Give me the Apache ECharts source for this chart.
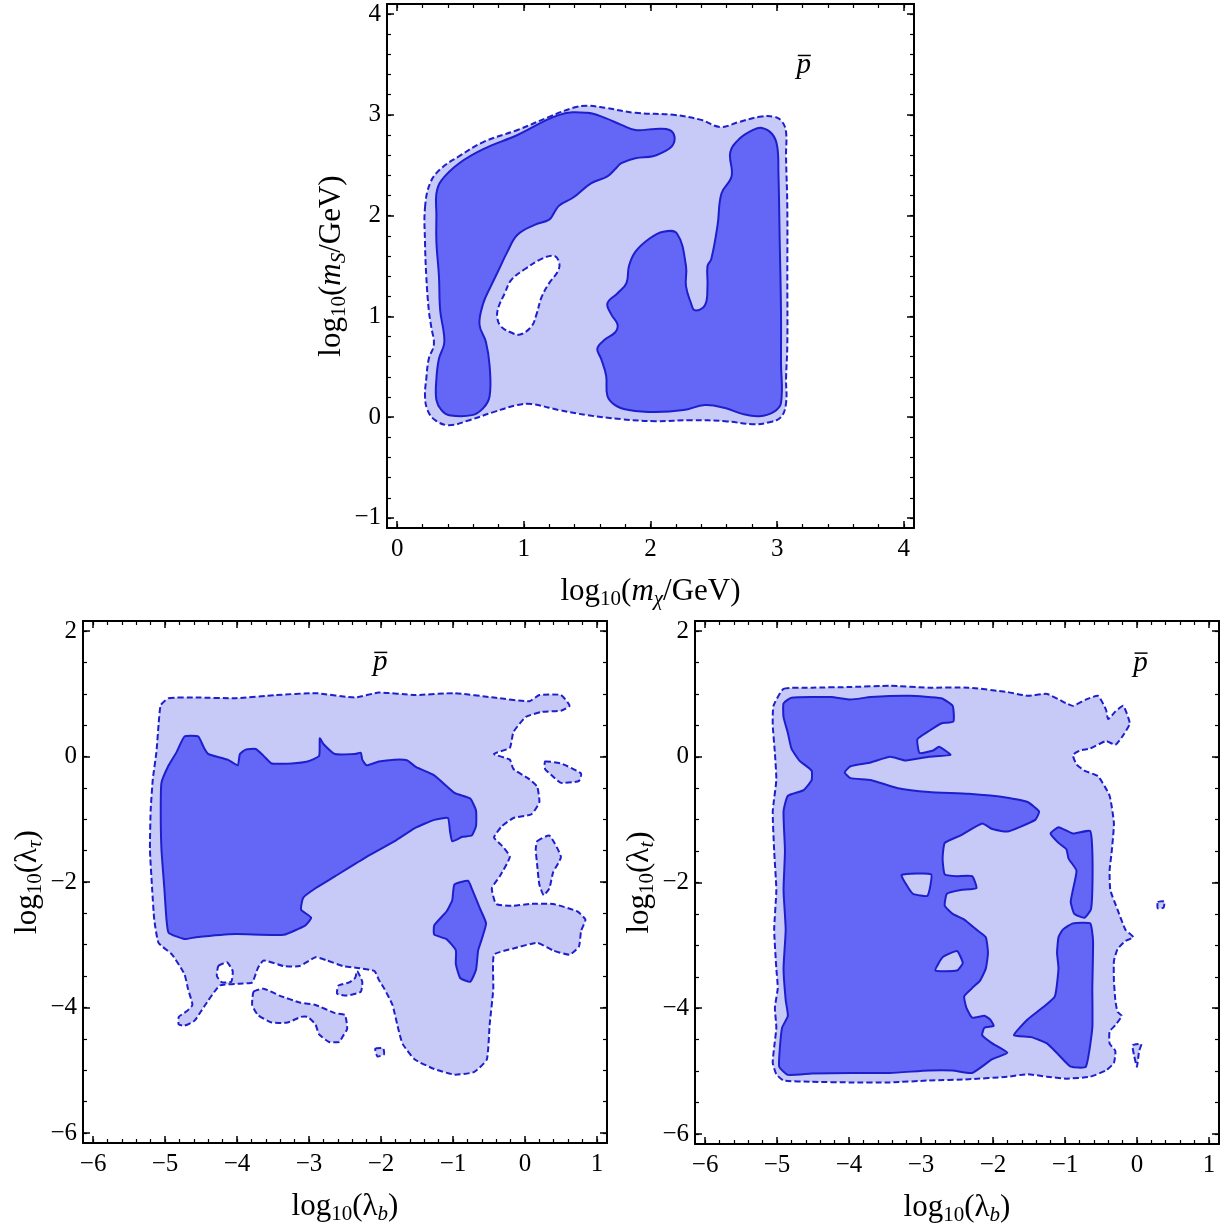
<!DOCTYPE html>
<html>
<head>
<meta charset="utf-8">
<script src="https://cdn.jsdelivr.net/npm/echarts@6/dist/echarts.min.js"></script>
<style>
  html, body { margin: 0; padding: 0; background: #ffffff; }
  #chart { width: 1228px; height: 1228px; }
</style>
</head>
<body>
<div id="chart"></div>
<script>
// ---- tick values -------------------------------------------------------
const mChiTicks = [0, 1, 2, 3, 4];
const mSTicks = [-1, 0, 1, 2, 3, 4];
const lambdaBTicks = [-6, -5, -4, -3, -2, -1, 0, 1];
const lambdaYTicks = [-6, -4, -2, 0, 2];

// ---- log10(m_S) vs log10(m_chi) ----------------------------------------
const msOuter95 = [[0.22,2.08],[0.26,2.32],[0.34,2.46],[0.49,2.59],[0.68,2.73],[0.95,2.85],[1.20,2.98],[1.39,3.07],[1.50,3.09],[1.64,3.07],[1.88,3.02],[2.18,3.00],[2.40,2.95],[2.55,2.88],[2.70,2.93],[2.86,2.98],[2.98,2.98],[3.04,2.93],[3.07,2.83],[3.07,2.59],[3.08,2.08],[3.08,1.40],[3.08,0.72],[3.07,0.38],[3.07,0.14],[3.03,0.00],[2.94,-0.05],[2.81,-0.07],[2.59,-0.04],[2.32,-0.03],[2.04,-0.04],[1.77,-0.02],[1.50,0.02],[1.28,0.07],[1.06,0.13],[0.95,0.12],[0.76,0.05],[0.57,-0.03],[0.41,-0.08],[0.30,-0.03],[0.24,0.07],[0.22,0.21],[0.23,0.38],[0.25,0.58],[0.29,0.72],[0.27,0.89],[0.25,1.06],[0.23,1.40],[0.22,1.74]];
const msHole95 = [[0.80,1.09],[0.85,1.23],[0.90,1.36],[1.01,1.47],[1.14,1.57],[1.24,1.60],[1.28,1.53],[1.27,1.45],[1.20,1.33],[1.14,1.19],[1.10,1.02],[1.06,0.90],[0.97,0.82],[0.90,0.84],[0.82,0.90],[0.79,0.99]];
const msCore68Left = [[0.31,2.22],[0.35,2.35],[0.49,2.52],[0.68,2.66],[0.95,2.80],[1.28,3.00],[1.50,3.02],[1.64,2.97],[1.77,2.90],[1.88,2.85],[2.04,2.86],[2.15,2.85],[2.19,2.78],[2.17,2.69],[2.10,2.63],[2.02,2.59],[1.88,2.57],[1.77,2.52],[1.72,2.46],[1.66,2.39],[1.53,2.32],[1.39,2.18],[1.28,2.10],[1.24,2.03],[1.20,1.96],[1.09,1.91],[0.95,1.81],[0.87,1.64],[0.79,1.43],[0.74,1.30],[0.68,1.13],[0.65,0.92],[0.70,0.75],[0.73,0.51],[0.73,0.21],[0.68,0.09],[0.59,0.02],[0.41,0.02],[0.35,0.07],[0.31,0.17],[0.31,0.38],[0.33,0.58],[0.37,0.72],[0.37,0.82],[0.34,1.06],[0.33,1.40],[0.31,1.74],[0.31,2.01]];
const msCore68Right = [[2.88,2.87],[2.96,2.81],[3.00,2.69],[3.01,2.42],[3.02,1.74],[3.03,1.06],[3.03,0.55],[3.03,0.14],[2.97,0.05],[2.86,0.01],[2.73,0.03],[2.59,0.09],[2.43,0.12],[2.26,0.07],[2.04,0.05],[1.83,0.07],[1.72,0.12],[1.66,0.21],[1.65,0.41],[1.61,0.58],[1.58,0.68],[1.64,0.77],[1.72,0.84],[1.74,0.92],[1.69,1.02],[1.66,1.13],[1.74,1.23],[1.81,1.33],[1.83,1.50],[1.88,1.64],[1.99,1.77],[2.10,1.84],[2.21,1.82],[2.28,1.50],[2.28,1.30],[2.32,1.13],[2.35,1.06],[2.43,1.11],[2.45,1.30],[2.45,1.50],[2.48,1.57],[2.53,1.91],[2.56,2.22],[2.64,2.39],[2.63,2.63],[2.70,2.76],[2.81,2.85]];

// ---- log10(lambda_tau) vs log10(lambda_b) -------------------------------
const tauOuter95 = [[-4.95,0.93],[-4.57,0.94],[-4.02,0.93],[-3.46,0.98],[-2.91,1.01],[-2.36,0.94],[-2.03,1.02],[-1.53,0.98],[-0.98,1.01],[-0.43,0.94],[0.06,0.88],[0.20,0.98],[0.50,0.98],[0.62,0.81],[0.50,0.73],[0.23,0.71],[0.01,0.63],[-0.16,0.39],[-0.21,0.14],[-0.43,0.04],[-0.21,-0.05],[-0.16,-0.20],[0.06,-0.36],[0.17,-0.48],[0.20,-0.73],[0.09,-0.92],[-0.16,-0.98],[-0.32,-1.11],[-0.43,-1.29],[-0.32,-1.42],[-0.21,-1.60],[-0.35,-1.91],[-0.46,-2.10],[-0.40,-2.35],[-0.16,-2.38],[0.06,-2.35],[0.39,-2.35],[0.73,-2.47],[0.84,-2.60],[0.78,-2.78],[0.75,-3.03],[0.62,-3.16],[0.39,-3.09],[0.17,-2.97],[-0.16,-3.06],[-0.43,-3.16],[-0.44,-3.71],[-0.49,-4.27],[-0.53,-4.83],[-0.71,-5.03],[-0.98,-5.07],[-1.26,-4.98],[-1.53,-4.83],[-1.70,-4.58],[-1.76,-4.34],[-1.84,-3.96],[-1.95,-3.71],[-2.03,-3.56],[-2.09,-3.42],[-2.33,-3.37],[-2.53,-3.34],[-2.75,-3.25],[-2.91,-3.20],[-3.13,-3.34],[-3.35,-3.34],[-3.63,-3.25],[-3.71,-3.37],[-3.79,-3.60],[-3.96,-3.62],[-4.24,-3.65],[-4.46,-3.99],[-4.59,-4.21],[-4.73,-4.29],[-4.81,-4.27],[-4.81,-4.15],[-4.70,-4.06],[-4.62,-3.96],[-4.68,-3.71],[-4.73,-3.47],[-4.90,-3.16],[-5.09,-2.97],[-5.15,-2.60],[-5.18,-2.10],[-5.21,-1.48],[-5.20,-0.86],[-5.17,-0.36],[-5.12,0.07],[-5.09,0.51],[-5.06,0.82]];
const tauIsland95A = [[-3.77,-3.75],[-3.63,-3.70],[-3.41,-3.81],[-3.13,-3.92],[-2.91,-3.96],[-2.64,-4.09],[-2.50,-4.12],[-2.47,-4.34],[-2.53,-4.46],[-2.58,-4.55],[-2.72,-4.55],[-2.86,-4.43],[-2.91,-4.27],[-3.02,-4.15],[-3.11,-4.15],[-3.30,-4.24],[-3.52,-4.24],[-3.71,-4.12],[-3.79,-3.96]];
const tauIsland95B = [[-2.33,-3.42],[-2.26,-3.59],[-2.28,-3.75],[-2.47,-3.81],[-2.61,-3.78],[-2.59,-3.65],[-2.44,-3.60],[-2.36,-3.53]];
const tauIsland95C = [[-2.08,-4.66],[-1.97,-4.65],[-1.96,-4.75],[-2.05,-4.78]];
const tauIsland95D = [[0.28,-0.08],[0.50,-0.11],[0.78,-0.27],[0.75,-0.39],[0.50,-0.42],[0.37,-0.30],[0.28,-0.20]];
const tauIsland95E = [[0.17,-1.35],[0.34,-1.26],[0.50,-1.60],[0.39,-1.85],[0.34,-2.10],[0.26,-2.21],[0.20,-2.04],[0.17,-1.73],[0.15,-1.48]];
const tauHole95 = [[-4.26,-3.34],[-4.14,-3.28],[-4.06,-3.42],[-4.08,-3.59],[-4.21,-3.60],[-4.28,-3.50]];
const tauCore68Main = [[-4.73,0.32],[-4.54,0.32],[-4.46,0.14],[-4.40,0.04],[-4.13,-0.05],[-3.99,-0.14],[-3.96,0.04],[-3.88,0.11],[-3.74,0.12],[-3.63,0.01],[-3.52,-0.11],[-3.24,-0.11],[-3.02,-0.08],[-2.86,0.01],[-2.85,0.29],[-2.80,0.20],[-2.64,0.04],[-2.36,0.04],[-2.28,0.06],[-2.26,-0.05],[-2.20,-0.14],[-2.03,-0.08],[-1.81,-0.05],[-1.64,-0.06],[-1.51,-0.17],[-1.26,-0.30],[-0.98,-0.58],[-0.76,-0.67],[-0.68,-0.86],[-0.68,-1.11],[-0.74,-1.26],[-0.87,-1.28],[-1.01,-1.35],[-1.04,-1.20],[-1.07,-0.98],[-1.26,-1.01],[-1.53,-1.14],[-1.81,-1.35],[-2.20,-1.60],[-2.64,-1.91],[-2.91,-2.10],[-3.08,-2.25],[-3.11,-2.44],[-2.97,-2.57],[-3.05,-2.69],[-3.35,-2.84],[-4.02,-2.83],[-4.57,-2.88],[-4.73,-2.91],[-4.95,-2.81],[-4.98,-2.60],[-5.01,-2.10],[-5.05,-1.48],[-5.06,-0.86],[-5.05,-0.42],[-4.95,-0.14],[-4.84,0.07]];
const tauCore68Side = [[-0.98,-2.04],[-0.79,-1.98],[-0.74,-2.10],[-0.63,-2.41],[-0.54,-2.66],[-0.60,-2.91],[-0.65,-3.09],[-0.68,-3.40],[-0.76,-3.59],[-0.90,-3.53],[-0.96,-3.31],[-0.96,-3.09],[-1.09,-2.91],[-1.26,-2.84],[-1.26,-2.69],[-1.09,-2.47],[-1.01,-2.29]];

// ---- log10(lambda_t) vs log10(lambda_b) ---------------------------------
const topOuter95 = [[-4.91,1.08],[-4.52,1.10],[-3.98,1.11],[-3.43,1.13],[-2.89,1.10],[-2.34,1.10],[-1.80,1.03],[-1.52,0.97],[-1.25,1.00],[-0.98,0.85],[-0.89,0.81],[-0.71,0.91],[-0.54,0.97],[-0.43,0.75],[-0.40,0.60],[-0.30,0.72],[-0.19,0.81],[-0.10,0.53],[-0.21,0.31],[-0.30,0.19],[-0.43,0.25],[-0.65,0.13],[-0.79,0.10],[-0.89,0.03],[-0.84,-0.12],[-0.73,-0.22],[-0.54,-0.31],[-0.38,-0.62],[-0.32,-1.06],[-0.35,-1.50],[-0.38,-1.81],[-0.37,-2.12],[-0.27,-2.43],[-0.16,-2.75],[-0.05,-2.87],[-0.16,-2.93],[-0.27,-3.06],[-0.32,-3.25],[-0.32,-3.56],[-0.30,-3.87],[-0.27,-4.06],[-0.21,-4.12],[-0.30,-4.27],[-0.38,-4.37],[-0.38,-4.56],[-0.30,-4.68],[-0.32,-4.87],[-0.43,-4.99],[-0.65,-5.09],[-0.98,-5.12],[-1.25,-5.09],[-1.52,-5.05],[-1.80,-5.09],[-2.34,-5.13],[-2.89,-5.15],[-3.43,-5.18],[-3.98,-5.18],[-4.52,-5.17],[-4.91,-5.15],[-5.01,-5.05],[-5.06,-4.87],[-5.04,-4.62],[-5.01,-4.31],[-5.03,-3.99],[-4.99,-3.68],[-5.01,-3.37],[-5.04,-2.75],[-5.01,-2.12],[-5.04,-1.50],[-5.06,-0.87],[-5.01,-0.37],[-5.03,0.06],[-5.06,0.50],[-5.05,0.81]];
const topIsland95A = [[0.29,-2.31],[0.38,-2.30],[0.37,-2.40],[0.29,-2.41]];
const topIsland95B = [[-0.06,-4.59],[0.06,-4.57],[0.03,-4.68],[0.00,-4.93],[-0.04,-4.75]];
const topCore68Main = [[-4.91,0.85],[-4.80,0.94],[-4.25,0.95],[-3.98,0.91],[-3.70,0.95],[-3.16,0.97],[-2.72,0.93],[-2.56,0.81],[-2.55,0.56],[-2.72,0.53],[-2.89,0.41],[-3.05,0.28],[-3.02,0.06],[-2.83,0.10],[-2.75,0.16],[-2.59,0.03],[-2.89,0.00],[-3.21,-0.06],[-3.43,0.00],[-3.70,-0.09],[-3.98,-0.15],[-4.06,-0.25],[-3.98,-0.34],[-3.70,-0.37],[-3.32,-0.50],[-2.89,-0.56],[-2.34,-0.59],[-1.80,-0.65],[-1.52,-0.72],[-1.36,-0.87],[-1.41,-1.00],[-1.63,-1.12],[-1.80,-1.19],[-2.01,-1.15],[-2.15,-1.06],[-2.45,-1.25],[-2.67,-1.37],[-2.70,-1.62],[-2.67,-1.87],[-2.50,-1.90],[-2.29,-1.90],[-2.23,-2.09],[-2.45,-2.12],[-2.64,-2.18],[-2.67,-2.37],[-2.56,-2.50],[-2.40,-2.59],[-2.23,-2.75],[-2.10,-2.87],[-2.07,-3.12],[-2.10,-3.37],[-2.18,-3.56],[-2.29,-3.68],[-2.40,-3.81],[-2.37,-3.99],[-2.29,-4.15],[-2.12,-4.12],[-2.04,-4.18],[-1.99,-4.28],[-2.12,-4.31],[-2.15,-4.43],[-2.01,-4.56],[-1.80,-4.71],[-2.01,-4.81],[-2.29,-5.03],[-2.56,-4.99],[-2.89,-4.99],[-3.43,-5.03],[-3.98,-5.03],[-4.52,-5.04],[-4.85,-5.06],[-4.97,-4.93],[-4.96,-4.62],[-4.93,-4.31],[-4.85,-4.12],[-4.88,-3.87],[-4.91,-3.37],[-4.88,-2.75],[-4.91,-2.12],[-4.89,-1.50],[-4.91,-0.87],[-4.85,-0.62],[-4.63,-0.53],[-4.52,-0.37],[-4.52,-0.22],[-4.69,-0.06],[-4.80,0.13],[-4.85,0.38],[-4.91,0.63]];
const topCore68Upper = [[-1.20,-1.22],[-1.09,-1.12],[-0.89,-1.22],[-0.65,-1.18],[-0.62,-1.50],[-0.62,-2.12],[-0.64,-2.43],[-0.73,-2.56],[-0.87,-2.50],[-0.92,-2.31],[-0.89,-2.12],[-0.84,-1.81],[-0.95,-1.62],[-0.98,-1.47],[-1.09,-1.37]];
const topCore68Lower = [[-1.03,-2.75],[-0.89,-2.65],[-0.65,-2.65],[-0.61,-2.93],[-0.62,-3.68],[-0.62,-4.31],[-0.71,-4.93],[-0.92,-4.93],[-1.09,-4.74],[-1.25,-4.56],[-1.47,-4.46],[-1.71,-4.43],[-1.52,-4.18],[-1.31,-3.99],[-1.14,-3.81],[-1.09,-3.37],[-1.11,-3.12],[-1.09,-2.87]];
const topGap68A = [[-3.27,-1.88],[-2.86,-1.87],[-2.91,-2.21],[-3.11,-2.18],[-3.19,-2.06]];
const topGap68B = [[-2.80,-3.40],[-2.70,-3.19],[-2.50,-3.09],[-2.42,-3.28],[-2.50,-3.40]];

// ---- drawing ------------------------------------------------------------
const SERIF = "'Liberation Serif', 'DejaVu Serif', serif";
const LIGHT = '#c7c9f6';
const DARK = '#6466f6';
const EDGE = '#1d1fcc';

// region kinds: 95% band, 95% gap, 68% core, 68% gap
const REGION_STYLE = {
  band95: { fill: LIGHT, stroke: EDGE, lineWidth: 2, lineDash: [6, 3] },
  gap95:  { fill: '#ffffff', stroke: EDGE, lineWidth: 2, lineDash: [6, 3] },
  core68: { fill: DARK, stroke: EDGE, lineWidth: 2 },
  gap68:  { fill: LIGHT, stroke: EDGE, lineWidth: 2 }
};

const TITLE_SIZE = 31;
const SUB_SIZE = 21;
const RICH = {
  n:  { fontFamily: SERIF, fontSize: TITLE_SIZE, color: '#000' },
  i:  { fontFamily: SERIF, fontSize: TITLE_SIZE, fontStyle: 'italic', color: '#000' },
  s:  { fontFamily: SERIF, fontSize: SUB_SIZE, color: '#000', padding: [15, 0, 0, 0] },
  si: { fontFamily: SERIF, fontSize: SUB_SIZE, fontStyle: 'italic', color: '#000', padding: [15, 0, 0, 0] }
};

const panels = [
  {
    grid: { left: 387, top: 4, width: 527, height: 524 },
    x: [-0.08, 4.08], y: [-1.1, 4.1],
    xTicks: mChiTicks, yTicks: mSTicks, xMinorStep: 0.2, yMinorStep: 0.2,
    xName: '{n|log}{s|10}{n|(}{i|m}{si|χ}{n|/GeV)}',
    yName: '{n|log}{s|10}{n|(}{i|m}{si|S}{n|/GeV)}',
    smooth: 0.4,
    pbar: [3.21, 3.49],
    regions: [
      [msOuter95, 'band95'], [msHole95, 'gap95'],
      [msCore68Left, 'core68'], [msCore68Right, 'core68']
    ]
  },
  {
    grid: { left: 83, top: 621, width: 524, height: 522 },
    x: [-6.14, 1.14], y: [-6.16, 2.16],
    xTicks: lambdaBTicks, yTicks: lambdaYTicks, xMinorStep: 0.2, yMinorStep: 0.5,
    xName: '{n|log}{s|10}{n|(λ}{si|b}{n|)}',
    yName: '{n|log}{s|10}{n|(λ}{si|τ}{n|)}',
    smooth: 0.15,
    pbar: [-2.01, 1.50],
    regions: [
      [tauOuter95, 'band95'], [tauIsland95A, 'band95'], [tauIsland95B, 'band95'],
      [tauIsland95C, 'band95'], [tauIsland95D, 'band95'], [tauIsland95E, 'band95'],
      [tauHole95, 'gap95'],
      [tauCore68Main, 'core68'], [tauCore68Side, 'core68']
    ]
  },
  {
    grid: { left: 695, top: 621, width: 524, height: 523 },
    x: [-6.14, 1.14], y: [-6.16, 2.16],
    xTicks: lambdaBTicks, yTicks: lambdaYTicks, xMinorStep: 0.2, yMinorStep: 0.5,
    xName: '{n|log}{s|10}{n|(λ}{si|b}{n|)}',
    yName: '{n|log}{s|10}{n|(λ}{si|t}{n|)}',
    smooth: 0.15,
    pbar: [0.05, 1.49],
    regions: [
      [topOuter95, 'band95'], [topIsland95A, 'band95'], [topIsland95B, 'band95'],
      [topCore68Main, 'core68'], [topCore68Upper, 'core68'], [topCore68Lower, 'core68'],
      [topGap68A, 'gap68'], [topGap68B, 'gap68']
    ]
  }
];

function minorValues(range, step) {
  const out = [];
  for (let k = Math.ceil(range[0] / step - 1e-9); k * step <= range[1] + 1e-9; k++) {
    out.push(+(k * step).toFixed(4));
  }
  return out;
}

const fmt = v => (v < 0 ? '\u2212' : '') + Math.abs(v);
const frameLine = { show: true, onZero: false, lineStyle: { color: '#000', width: 2 } };
const hiddenLine = { show: false, onZero: false };
const majorTick = vals => ({ show: true, inside: true, length: 7, customValues: vals, lineStyle: { color: '#000', width: 1.5 } });
const minorTick = vals => ({ show: true, inside: true, length: 4, customValues: vals, lineStyle: { color: '#000', width: 1.2 } });
const tickLabel = (vals, margin) => ({ show: true, customValues: vals, formatter: fmt, fontFamily: SERIF, fontSize: 25, color: '#000', margin });

const grids = [], xAxes = [], yAxes = [], series = [];

panels.forEach((p, gi) => {
  grids.push(Object.assign({ containLabel: false, outerBoundsMode: 'none' }, p.grid));
  const xm = minorValues(p.x, p.xMinorStep);
  const ym = minorValues(p.y, p.yMinorStep);
  const bx = { type: 'value', gridIndex: gi, min: p.x[0], max: p.x[1], splitLine: { show: false } };
  const by = { type: 'value', gridIndex: gi, min: p.y[0], max: p.y[1], splitLine: { show: false } };

  xAxes.push(
    Object.assign({}, bx, {
      position: 'bottom', axisLine: frameLine, axisTick: majorTick(p.xTicks),
      axisLabel: tickLabel(p.xTicks, 9),
      name: p.xName, nameLocation: 'middle', nameGap: 46,
      nameTextStyle: { rich: RICH, fontFamily: SERIF, fontSize: TITLE_SIZE, color: '#000' }
    }),
    Object.assign({}, bx, { position: 'top', axisLine: frameLine, axisTick: majorTick(p.xTicks), axisLabel: { show: false } }),
    Object.assign({}, bx, { position: 'bottom', axisLine: hiddenLine, axisTick: minorTick(xm), axisLabel: { show: false } }),
    Object.assign({}, bx, { position: 'top', axisLine: hiddenLine, axisTick: minorTick(xm), axisLabel: { show: false } })
  );
  yAxes.push(
    Object.assign({}, by, {
      position: 'left', axisLine: frameLine, axisTick: majorTick(p.yTicks),
      axisLabel: tickLabel(p.yTicks, 6),
      name: p.yName, nameLocation: 'middle', nameGap: 37,
      nameTextStyle: { rich: RICH, fontFamily: SERIF, fontSize: TITLE_SIZE, color: '#000' }
    }),
    Object.assign({}, by, { position: 'right', axisLine: frameLine, axisTick: majorTick(p.yTicks), axisLabel: { show: false } }),
    Object.assign({}, by, { position: 'left', axisLine: hiddenLine, axisTick: minorTick(ym), axisLabel: { show: false } }),
    Object.assign({}, by, { position: 'right', axisLine: hiddenLine, axisTick: minorTick(ym), axisLabel: { show: false } })
  );

  // filled confidence regions, drawn in list order
  const regions = p.regions;
  series.push({
    type: 'custom',
    xAxisIndex: gi * 4, yAxisIndex: gi * 4,
    silent: true, clip: true, z: 1,
    data: regions.map(r => r[0][0]),
    renderItem: (params, api) => {
      const r = regions[params.dataIndex];
      const pts = r[0].map(pt => api.coord(pt));
      return {
        type: 'polygon',
        shape: { points: pts, smooth: p.smooth },
        style: Object.assign({}, REGION_STYLE[r[1]])
      };
    }
  });

  // p-bar tag
  const anchor = p.pbar;
  series.push({
    type: 'custom',
    xAxisIndex: gi * 4, yAxisIndex: gi * 4,
    silent: true, z: 3,
    data: [anchor],
    renderItem: (params, api) => {
      const c = api.coord(anchor);
      return {
        type: 'group',
        children: [
          { type: 'text', x: c[0], y: c[1],
            style: { text: 'p', fill: '#000', fontFamily: SERIF, fontSize: 29, fontStyle: 'italic', align: 'center', verticalAlign: 'middle' } },
          { type: 'line', shape: { x1: c[0] - 6, y1: c[1] - 10, x2: c[0] + 7, y2: c[1] - 10 },
            style: { stroke: '#000', lineWidth: 1.5 } }
        ]
      };
    }
  });
});

const chart = echarts.init(document.getElementById('chart'), null, { renderer: 'canvas' });
chart.setOption({
  animation: false,
  backgroundColor: '#ffffff',
  grid: grids,
  xAxis: xAxes,
  yAxis: yAxes,
  series: series
});
</script>
</body>
</html>
